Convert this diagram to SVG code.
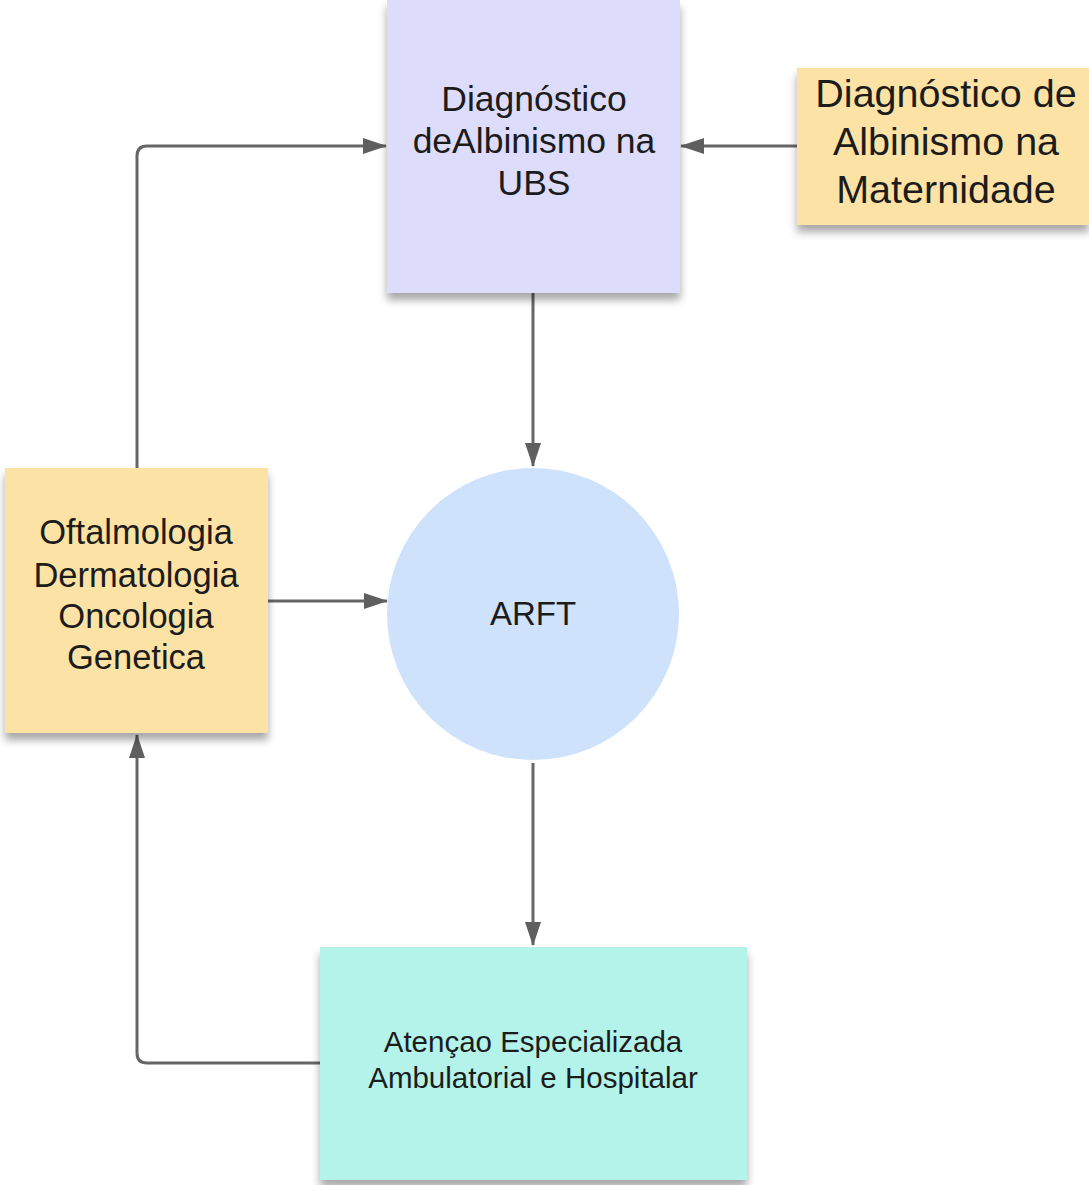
<svg xmlns="http://www.w3.org/2000/svg" width="1089" height="1185" viewBox="0 0 1089 1185">
<defs>
<filter id="sh" x="-10%" y="-10%" width="120%" height="125%">
<feDropShadow dx="0" dy="7" stdDeviation="4" flood-color="#000" flood-opacity="0.35"/>
</filter>
<marker id="ah" markerWidth="24" markerHeight="16" refX="23" refY="8" orient="auto" markerUnits="userSpaceOnUse">
<path d="M0,0 L24,8 L0,16 Z" fill="#5f5f5f"/>
</marker>
<style>
.t{font-family:"Liberation Sans",Arial,sans-serif;fill:#1c1c1c;text-anchor:middle}
.c{fill:none;stroke:#666;stroke-width:3;marker-end:url(#ah)}
</style>
</defs>
<rect width="1089" height="1185" fill="#fff"/>
<g id="connectors">
<path class="c" d="M533,293 V466"/>
<path class="c" d="M797,146 H681"/>
<path class="c" d="M137,468 V156 Q137,146 147,146 H386"/>
<path class="c" d="M268,601 H387"/>
<path class="c" d="M533,763 V945"/>
<path class="c" d="M320,1063 H147 Q137,1063 137,1053 V735"/>
</g>
<g id="ubs">
<rect x="387" y="0" width="293" height="293" fill="#dedcfb" filter="url(#sh)"/>
<text class="t" font-size="35.5"><tspan x="534" y="111">Diagnóstico</tspan><tspan x="534" y="153">deAlbinismo na</tspan><tspan x="534" y="195">UBS</tspan></text>
</g>
<g id="maternidade">
<rect x="797" y="68" width="292" height="157" fill="#fce3a5" filter="url(#sh)"/>
<text class="t" font-size="39.5"><tspan x="946" y="107">Diagnóstico de</tspan><tspan x="946" y="155">Albinismo na</tspan><tspan x="946" y="203">Maternidade</tspan></text>
</g>
<g id="especialidades">
<rect x="5" y="468" width="263" height="265" fill="#fce3a5" filter="url(#sh)"/>
<text class="t" font-size="34.5"><tspan x="136" y="544">Oftalmologia</tspan><tspan x="136" y="587">Dermatologia</tspan><tspan x="136" y="628">Oncologia</tspan><tspan x="136" y="669">Genetica</tspan></text>
</g>
<g id="arft">
<circle cx="533" cy="614" r="146" fill="#cfe2fb"/>
<text class="t" font-size="33" x="533" y="625" fill="#333">ARFT</text>
</g>
<g id="atencao">
<rect x="320" y="947" width="427" height="233" fill="#b3f3ea" filter="url(#sh)"/>
<text class="t" font-size="29.5"><tspan x="533" y="1052">Atençao Especializada</tspan><tspan x="533" y="1088">Ambulatorial e Hospitalar</tspan></text>
</g>
</svg>
